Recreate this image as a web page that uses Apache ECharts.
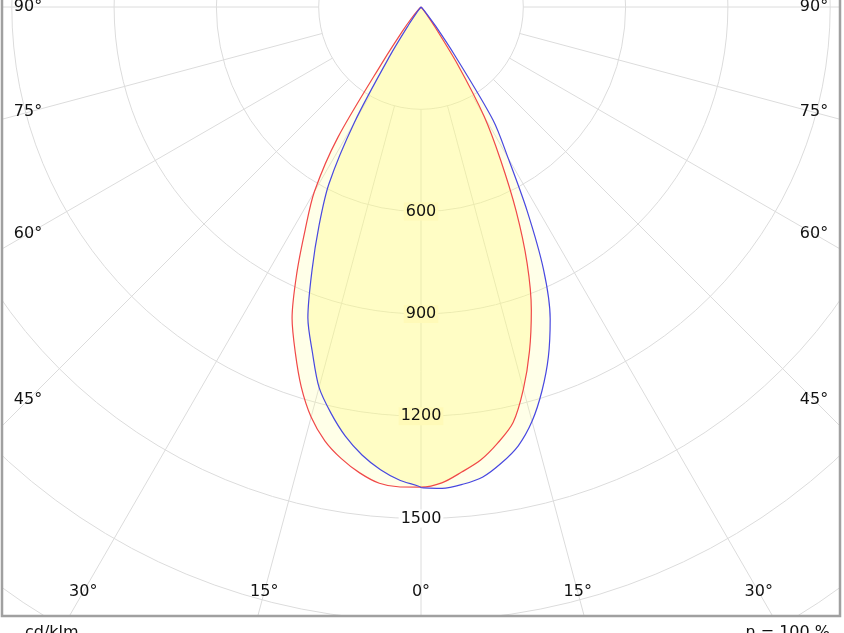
<!DOCTYPE html>
<html>
<head>
<meta charset="utf-8">
<title>Lichtstärkeverteilung</title>
<script src="https://cdn.jsdelivr.net/npm/echarts@6/dist/echarts.min.js"></script>
<style>html,body{margin:0;padding:0;background:#fff;}</style>
</head>
<body>
<div id="main" style="width:844px;height:633px;"></div>
<script type="text/javascript">
// gamma angles (deg from nadir) and intensities in cd/klm
var angles = [0, 2.5, 5, 7.5, 10, 12.5, 15, 17.5, 20, 22.5, 25, 27.5, 30, 32.5, 35, 37.5, 40, 45, 50, 55, 60, 65, 70, 75, 80, 85, 90];
var c0   = [1408, 1397, 1369, 1340, 1298, 1248, 1160, 1058, 946, 813, 660, 505, 370, 200, 70, 25, 8, 0, 0, 0, 0, 0, 0, 0, 0, 0, 0];      // red, right
var c180 = [1408, 1409, 1402, 1378, 1345, 1303, 1245, 1168, 1078, 988, 862, 735, 625, 455, 190, 90, 45, 10, 0, 0, 0, 0, 0, 0, 0, 0, 0]; // red, left
var c90  = [1412, 1413, 1405, 1390, 1358, 1318, 1258, 1180, 1092, 990, 851, 674, 510, 393, 170, 70, 25, 5, 0, 0, 0, 0, 0, 0, 0, 0, 0];  // blue, right
var c270 = [1410, 1390, 1362, 1325, 1278, 1220, 1155, 1060, 970, 835, 708, 585, 390, 170, 60, 20, 6, 0, 0, 0, 0, 0, 0, 0, 0, 0, 0];     // blue, left

var ringLabels = [600, 900, 1200, 1500];
var angleTicks = [0, 15, 30, 45, 60, 75, 90];

var PX = 0.341;          // pixels per cd/klm
var CX = 421, CY = 7;    // polar centre
var LABEL_DX = 393, LABEL_DY = 585;  // inset box for angle labels

var myChart = echarts.init(document.getElementById('main'));

// left half goes 90..0 (drawn as 360-g), right half 0..90
function curve(left, right) {
    var pts = [];
    for (var i = angles.length - 1; i >= 0; i--) pts.push([left[i], 360 - angles[i]]);
    for (var j = 0; j < angles.length; j++) pts.push([right[j], angles[j]]);
    return pts;
}
function lower(a, b) {
    return a.map(function (v, i) { return Math.min(v, b[i]); });
}

var angleLabelData = [];
angleTicks.forEach(function (a) {
    var rad = a * Math.PI / 180;
    var r = Math.min(a > 0 ? LABEL_DX / Math.sin(rad) : 1e9, a < 90 ? LABEL_DY / Math.cos(rad) : 1e9);
    var v = r / PX;
    angleLabelData.push({ value: [v, a], name: a + '°' });
    if (a > 0) angleLabelData.push({ value: [v, 360 - a], name: a + '°' });
});

var ringData = ringLabels.map(function (v) {
    return {
        value: [v, 0],
        name: String(v),
        label: { backgroundColor: v < 1400 ? '#fffab8' : '#ffffff' }
    };
});

var textFont = { fontFamily: 'DejaVu Sans', fontSize: 16, color: '#111' };
var hidden = { axisLine: { show: false }, axisTick: { show: false }, axisLabel: { show: false } };

var option = {
    animation: false,
    polar: [
        { center: [CX, CY], radius: [300 * PX, 2400 * PX] },   // grid
        { center: [CX, CY], radius: [0, 2400 * PX] }            // data
    ],
    angleAxis: [
        Object.assign({
            polarIndex: 0, type: 'value', min: 0, max: 360, interval: 15,
            startAngle: -90, clockwise: false,
            splitLine: { show: true, lineStyle: { color: '#dcdcdc', width: 1 } }
        }, hidden),
        Object.assign({
            polarIndex: 1, type: 'value', min: 0, max: 360, interval: 15,
            startAngle: -90, clockwise: false, splitLine: { show: false }
        }, hidden)
    ],
    radiusAxis: [
        Object.assign({
            polarIndex: 0, type: 'value', min: 300, max: 2400, interval: 300,
            splitLine: { show: true, lineStyle: { color: '#dcdcdc', width: 1 } }
        }, hidden),
        Object.assign({
            polarIndex: 1, type: 'value', min: 0, max: 2400, interval: 300, splitLine: { show: false }
        }, hidden)
    ],
    series: [
        {
            name: 'common', type: 'line', coordinateSystem: 'polar', polarIndex: 1, z: 1,
            data: curve(lower(c180, c270), lower(c0, c90)), showSymbol: false, smooth: 0.3,
            lineStyle: { width: 0 },
            areaStyle: { color: 'rgba(255,236,0,0.16)', origin: 0 }
        },
        {
            name: 'C0-C180', type: 'line', coordinateSystem: 'polar', polarIndex: 1, z: 2,
            data: curve(c180, c0), showSymbol: false, smooth: 0.3,
            lineStyle: { color: '#f04848', width: 1.2 },
            areaStyle: { color: 'rgba(255,255,150,0.32)', origin: 0 }
        },
        {
            name: 'C90-C270', type: 'line', coordinateSystem: 'polar', polarIndex: 1, z: 2,
            data: curve(c270, c90), showSymbol: false, smooth: 0.3,
            lineStyle: { color: '#4848e0', width: 1.2 },
            areaStyle: { color: 'rgba(255,255,150,0.32)', origin: 0 }
        },
        {
            type: 'scatter', coordinateSystem: 'polar', polarIndex: 1, symbolSize: 0, silent: true, z: 10,
            itemStyle: { opacity: 1 },
            data: ringData,
            label: Object.assign({ show: true, position: 'inside', formatter: '{b}', padding: [1, 2] }, textFont)
        },
        {
            type: 'scatter', coordinateSystem: 'polar', polarIndex: 1, symbolSize: 0, silent: true, z: 10,
            itemStyle: { opacity: 1 },
            data: angleLabelData,
            label: Object.assign({ show: true, position: 'inside', formatter: '{b}' }, textFont)
        }
    ],
    graphic: [
        { type: 'rect', z: 100, shape: { x: 0, y: 617, width: 844, height: 16 }, style: { fill: '#fff' } },
        { type: 'rect', z: 100, shape: { x: 841, y: 0, width: 3, height: 633 }, style: { fill: '#fff' } },
        { type: 'rect', z: 100, shape: { x: 0, y: 0, width: 1, height: 633 }, style: { fill: '#fff' } },
        { type: 'polyline', z: 101, shape: { points: [[2, 0], [2, 616], [840, 616], [840, 0]] },
          style: { stroke: '#a0a0a0', lineWidth: 2.5, fill: null } },
        { type: 'text', z: 101, x: 25, y: 625, style: { text: 'cd/klm', font: '16px DejaVu Sans', fill: '#111' } },
        { type: 'text', z: 101, x: 830, y: 625, style: { text: 'η = 100 %', font: '16px DejaVu Sans', fill: '#111', align: 'right' } }
    ]
};

myChart.setOption(option);
</script>
</body>
</html>
